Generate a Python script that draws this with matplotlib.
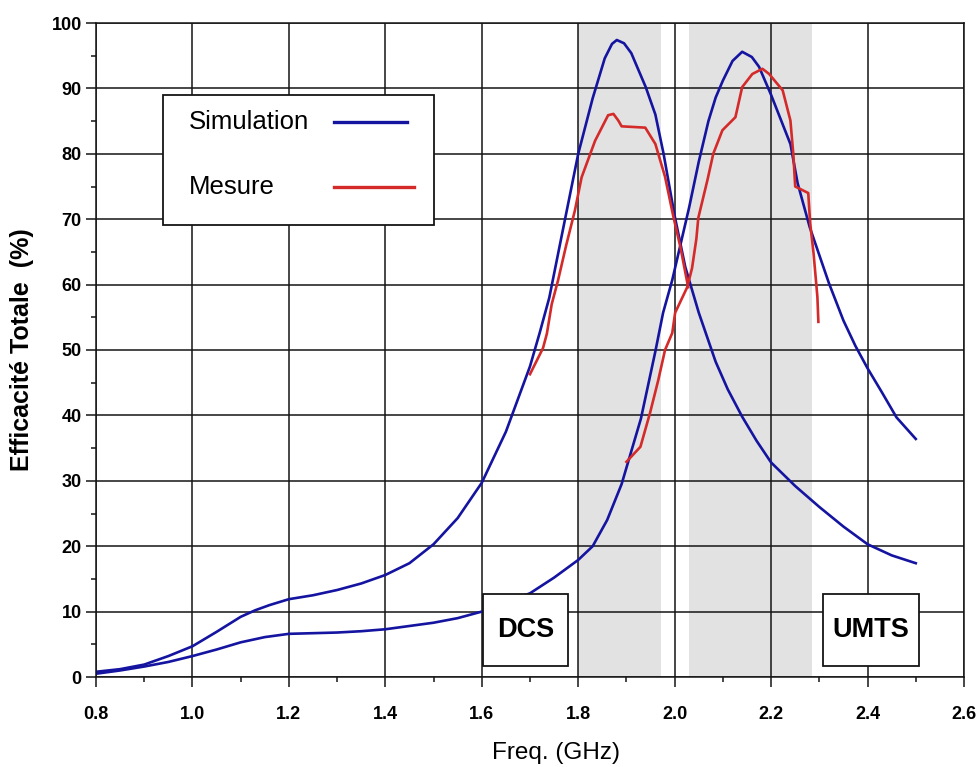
import matplotlib
matplotlib.use("Agg")
import matplotlib.pyplot as plt
from matplotlib.patches import Rectangle
from matplotlib.lines import Line2D
from matplotlib.ticker import MultipleLocator, FormatStrFormatter

plt.rcParams['font.family'] = ['Liberation Sans', 'DejaVu Sans']

# ---- data ----
sim1_f = [0.80, 0.85, 0.90, 0.95, 1.00, 1.05, 1.10, 1.13, 1.16, 1.20, 1.25, 1.30, 1.35,
          1.40, 1.45, 1.50, 1.55, 1.60, 1.65, 1.70, 1.72, 1.74, 1.765, 1.80, 1.83, 1.855,
          1.87, 1.88, 1.895, 1.91, 1.94, 1.96, 1.977, 2.00, 2.022, 2.05, 2.085, 2.11,
          2.14, 2.17, 2.20, 2.25, 2.30, 2.35, 2.40, 2.45, 2.50]
sim1_eff = [0.8, 1.2, 1.9, 3.2, 4.7, 6.9, 9.2, 10.2, 11.0, 11.9, 12.5, 13.3, 14.3,
            15.6, 17.4, 20.3, 24.3, 29.7, 37.5, 47.5, 52.6, 58.0, 67.2, 80.0, 88.5, 94.6,
            96.8, 97.4, 96.9, 95.4, 90.2, 86.0, 80.0, 70.5, 62.7, 55.7, 48.2, 44.0,
            39.8, 36.1, 32.8, 29.2, 26.0, 23.0, 20.3, 18.6, 17.4]

sim2_f = [0.80, 0.85, 0.90, 0.95, 1.00, 1.05, 1.10, 1.15, 1.20, 1.25, 1.30, 1.35, 1.40,
          1.45, 1.50, 1.55, 1.60, 1.65, 1.70, 1.75, 1.80, 1.83, 1.86, 1.89, 1.93,
          1.96, 1.976, 1.995, 2.03, 2.05, 2.07, 2.085, 2.10, 2.12, 2.14, 2.16, 2.175,
          2.20, 2.24, 2.255, 2.28, 2.32, 2.35, 2.375, 2.40, 2.43, 2.46, 2.50]
sim2_eff = [0.5, 1.0, 1.6, 2.3, 3.2, 4.2, 5.3, 6.1, 6.6, 6.7, 6.8, 7.0, 7.3,
            7.8, 8.3, 9.0, 10.0, 11.4, 12.8, 15.2, 17.9, 20.0, 24.0, 29.5, 39.5,
            49.8, 55.7, 60.7, 71.8, 78.8, 85.0, 88.6, 91.2, 94.2, 95.6, 94.8, 93.3,
            89.0, 81.5, 75.5, 68.8, 60.2, 54.5, 50.6, 47.2, 43.5, 39.7, 36.4]

mes1_f = [1.700, 1.727, 1.735, 1.745, 1.758, 1.775, 1.793, 1.807, 1.835, 1.862, 1.873,
          1.883, 1.890, 1.939, 1.960, 1.980, 1.997, 2.012, 2.028]
mes1_eff = [46.3, 50.3, 52.5, 57.0, 60.6, 66.0, 71.3, 76.4, 82.0, 85.9, 86.1,
            85.1, 84.2, 84.0, 81.5, 76.5, 70.5, 65.7, 59.6]

mes2_f = [1.900, 1.929, 1.949, 1.966, 1.980, 1.995, 2.001, 2.026, 2.036, 2.045, 2.049,
          2.068, 2.080, 2.099, 2.126, 2.140, 2.161, 2.182, 2.196, 2.224, 2.240, 2.246,
          2.250, 2.277, 2.281, 2.288, 2.296, 2.298]
mes2_eff = [32.9, 35.2, 40.4, 45.4, 50.0, 52.6, 55.7, 59.6, 62.5, 67.0, 70.2,
            76.0, 80.0, 83.6, 85.6, 90.2, 92.2, 93.0, 92.2, 89.7, 85.1, 80.0,
            75.0, 74.0, 69.4, 64.8, 58.1, 54.3]

bands = [(1.80, 1.972), (2.029, 2.285)]
band_labels = ["DCS", "UMTS"]
band_label_boxes = [(1.603, 1.7, 0.176, 11.0), (2.308, 1.7, 0.199, 11.0)]

x_ticks = [0.8, 1.0, 1.2, 1.4, 1.6, 1.8, 2.0, 2.2, 2.4, 2.6]
y_ticks = [0, 10, 20, 30, 40, 50, 60, 70, 80, 90, 100]

legend_labels = ["Simulation", "Mesure"]

blue = '#1414A0'
red = '#D42A2A'
ink = '#151515'

# ---- figure ----
fig = plt.figure(figsize=(9.79, 7.67), dpi=100)
ax = fig.add_axes([96/979, 90/767, 868/979, 654/767])

for (a, b) in bands:
    ax.axvspan(a, b, color='#E2E2E2', zorder=0.5, lw=0)

ax.plot(sim1_f, sim1_eff, color=blue, lw=1.9, zorder=2)
ax.plot(sim2_f, sim2_eff, color=blue, lw=1.9, zorder=2)
ax.plot(mes1_f, mes1_eff, color=red, lw=1.9, zorder=2.1)
ax.plot(mes2_f, mes2_eff, color=red, lw=1.9, zorder=2.1)

ax.set_xlim(0.8, 2.6)
ax.set_ylim(0, 100)
ax.set_xticks(x_ticks)
ax.set_yticks(y_ticks)
ax.xaxis.set_minor_locator(MultipleLocator(0.1))
ax.yaxis.set_minor_locator(MultipleLocator(5))
ax.xaxis.set_major_formatter(FormatStrFormatter('%.1f'))
ax.grid(True, which='major', color=ink, lw=1.1)
ax.tick_params(which='major', direction='out', length=7.2, width=1.1, color=ink)
ax.tick_params(which='minor', direction='out', length=3.6, width=1.1, color=ink)
ax.tick_params(axis='x', which='major', pad=14)
ax.tick_params(axis='y', which='major', pad=3)
for lab in ax.get_xticklabels() + ax.get_yticklabels():
    lab.set_fontweight('bold')
    lab.set_fontsize(13)
for s in ax.spines.values():
    s.set_color(ink)
    s.set_linewidth(1.1)

ax.set_xlabel("Freq. (GHz)", fontsize=17.5)
ax.set_ylabel("Efficacité Totale  (%)", fontsize=18, fontweight='bold')
ax.xaxis.set_label_coords(0.53, -0.099)
ax.yaxis.set_label_coords(-0.071, 0.5)

for lbl, (x0, y0, w, h) in zip(band_labels, band_label_boxes):
    ax.add_patch(Rectangle((x0, y0), w, h, facecolor='white', edgecolor=ink,
                           lw=1.3, zorder=4))
    ax.text(x0 + w/2, y0 + h/2, lbl, ha='center', va='center', fontsize=19.5,
            fontweight='bold', zorder=5)

# ---- legend box (text first, line sample after, as in the original) ----
tr = ax.transAxes
ax.add_patch(Rectangle((0.0772, 0.6911), 0.3122, 0.1988, transform=tr,
                       facecolor='white', edgecolor=ink, lw=1.3, zorder=6,
                       clip_on=False))
leg_rows = [(0.8480, 0.2742, 0.3583, blue), (0.7492, 0.2742, 0.3664, red)]
for lbl, (yy, x0, x1, col) in zip(legend_labels, leg_rows):
    ax.text(0.1075, yy, lbl, transform=tr, ha='left', va='center',
            fontsize=18.5, zorder=7)
    ax.add_line(Line2D([x0, x1], [yy, yy], transform=tr, color=col, lw=2.4,
                       zorder=7, clip_on=False))

fig.savefig("out.png", dpi=100)
